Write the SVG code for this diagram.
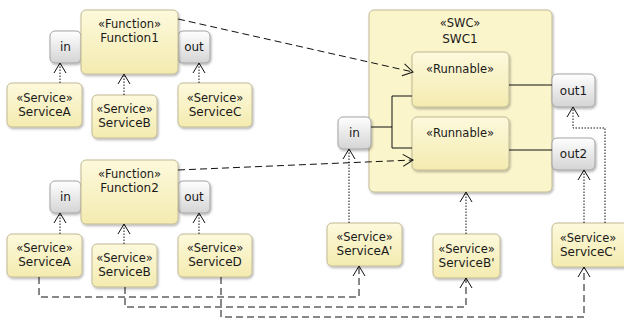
<svg xmlns="http://www.w3.org/2000/svg" width="624" height="322" viewBox="0 0 624 322">
<style>
text{font-family:"DejaVu Sans","Liberation Sans",sans-serif;font-size:12px;fill:#1a1a1a;text-anchor:middle}
.st{font-size:11.5px}
.node{fill:url(#yg);stroke:#c2ba95;stroke-width:1;filter:url(#sh)}
.swc{fill:#fbf5cc;stroke:#c2ba95;stroke-width:1;filter:url(#sh)}
.port{fill:url(#gg);stroke:#a3a3a3;stroke-width:1;filter:url(#sh)}
.dash{fill:none;stroke:#111;stroke-width:1;stroke-dasharray:7 4}
.dot{fill:none;stroke:#111;stroke-width:1;stroke-dasharray:1.5 1.5}
.solid{fill:none;stroke:#111;stroke-width:1}
</style>
<defs>
<linearGradient id="yg" x1="0" y1="0" x2="0" y2="1"><stop offset="0" stop-color="#fdf9dc"/><stop offset="1" stop-color="#f4ebb0"/></linearGradient>
<linearGradient id="gg" x1="0" y1="0" x2="0" y2="1"><stop offset="0" stop-color="#ffffff"/><stop offset="1" stop-color="#d4d4d4"/></linearGradient>
<filter id="sh" x="-20%" y="-20%" width="140%" height="140%"><feDropShadow dx="1" dy="1.5" stdDeviation="1" flood-color="#000" flood-opacity="0.3"/></filter>
<marker id="ar" viewBox="0 0 12 14" refX="11" refY="7" markerWidth="12" markerHeight="14" markerUnits="userSpaceOnUse" orient="auto"><path d="M1 1 L11 7 L1 13" fill="none" stroke="#111" stroke-width="1"/></marker>
</defs>

<g id="swc1">
<rect class="swc" x="369" y="10" width="183" height="182" rx="5"/>
<text class="st" x="460" y="27">«SWC»</text>
<text x="460" y="43">SWC1</text>
</g>
<g id="runnable1">
<rect class="node" x="412" y="52" width="97" height="55" rx="5"/>
<text class="st" x="460" y="73">«Runnable»</text>
</g>
<g id="runnable2">
<rect class="node" x="412" y="117" width="97" height="53" rx="5"/>
<text class="st" x="460" y="137">«Runnable»</text>
</g>
<g id="swc-in">
<rect class="port" x="338" y="117" width="33" height="32" rx="5"/>
<text x="354.5" y="137">in</text>
</g>
<g id="swc-out1">
<rect class="port" x="552" y="74" width="43" height="33" rx="5"/>
<text x="573.5" y="95">out1</text>
</g>
<g id="swc-out2">
<rect class="port" x="552" y="138" width="43" height="32" rx="5"/>
<text x="573.5" y="158">out2</text>
</g>

<g id="f1-in"><rect class="port" x="50" y="31" width="31" height="32" rx="5"/><text x="65.5" y="51">in</text></g>
<g id="f1-out"><rect class="port" x="178" y="31" width="32" height="32" rx="5"/><text x="194" y="51">out</text></g>
<g id="function1">
<rect class="node" x="81" y="10" width="97" height="64" rx="5"/>
<text class="st" x="129.5" y="28">«Function»</text>
<text x="129.5" y="42">Function1</text>
</g>
<g id="f1-serviceA"><rect class="node" x="7" y="83" width="75" height="44" rx="5"/><text class="st" x="44.5" y="102">«Service»</text><text x="44.5" y="116">ServiceA</text></g>
<g id="f1-serviceB"><rect class="node" x="92" y="95" width="65" height="43" rx="5"/><text class="st" x="124.5" y="113">«Service»</text><text x="124.5" y="127">ServiceB</text></g>
<g id="f1-serviceC"><rect class="node" x="178" y="83" width="74" height="44" rx="5"/><text class="st" x="215" y="102">«Service»</text><text x="215" y="116">ServiceC</text></g>

<g id="f2-in"><rect class="port" x="50" y="181" width="31" height="32" rx="5"/><text x="65.5" y="201">in</text></g>
<g id="f2-out"><rect class="port" x="178" y="181" width="32" height="32" rx="5"/><text x="194" y="201">out</text></g>
<g id="function2">
<rect class="node" x="81" y="160" width="97" height="64" rx="5"/>
<text class="st" x="129.5" y="178">«Function»</text>
<text x="129.5" y="192">Function2</text>
</g>
<g id="f2-serviceA"><rect class="node" x="7" y="234" width="75" height="43" rx="5"/><text class="st" x="44.5" y="252">«Service»</text><text x="44.5" y="266">ServiceA</text></g>
<g id="f2-serviceB"><rect class="node" x="92" y="244" width="65" height="43" rx="5"/><text class="st" x="124.5" y="262">«Service»</text><text x="124.5" y="276">ServiceB</text></g>
<g id="f2-serviceD"><rect class="node" x="178" y="234" width="74" height="43" rx="5"/><text class="st" x="215" y="252">«Service»</text><text x="215" y="266">ServiceD</text></g>

<g id="serviceA-prime"><rect class="node" x="327" y="223" width="75" height="43" rx="5"/><text class="st" x="364.5" y="241">«Service»</text><text x="364.5" y="255">ServiceA'</text></g>
<g id="serviceB-prime"><rect class="node" x="433" y="234" width="67" height="44" rx="5"/><text class="st" x="466.5" y="253">«Service»</text><text x="466.5" y="267">ServiceB'</text></g>
<g id="serviceC-prime"><rect class="node" x="552" y="223" width="76" height="44" rx="5"/><text class="st" x="588" y="242">«Service»</text><text x="588" y="256">ServiceC'</text></g>

<g id="connectors">
<path class="dot" d="M60 83 V63" marker-end="url(#ar)"/>
<path class="dot" d="M124 95 V74" marker-end="url(#ar)"/>
<path class="dot" d="M199 83 V63" marker-end="url(#ar)"/>
<path class="dot" d="M60 234 V213" marker-end="url(#ar)"/>
<path class="dot" d="M124 244 V224" marker-end="url(#ar)"/>
<path class="dot" d="M199 234 V213" marker-end="url(#ar)"/>

<path class="dash" d="M178 19 L413 72" marker-end="url(#ar)"/>
<path class="dash" d="M178 170 L413 160" marker-end="url(#ar)"/>

<path class="dash" d="M39 277 V297 H359 V266" marker-end="url(#ar)"/>
<path class="dash" d="M125 287 V307 H466 V278" marker-end="url(#ar)"/>
<path class="dash" d="M221 277 V317 H584 V267" marker-end="url(#ar)"/>

<path class="solid" d="M371 127 H392 M392 96 V148 M392 96 H412 M392 148 H412"/>
<path class="solid" d="M509 85 H552 M509 150 H552"/>

<path class="dot" d="M349 223 V149" marker-end="url(#ar)"/>
<path class="dot" d="M466 234 V192" marker-end="url(#ar)"/>
<path class="dot" d="M584 223 V170" marker-end="url(#ar)"/>
<path class="dot" d="M605 223 V128 H573 V107" marker-end="url(#ar)"/>
</g>
</svg>
